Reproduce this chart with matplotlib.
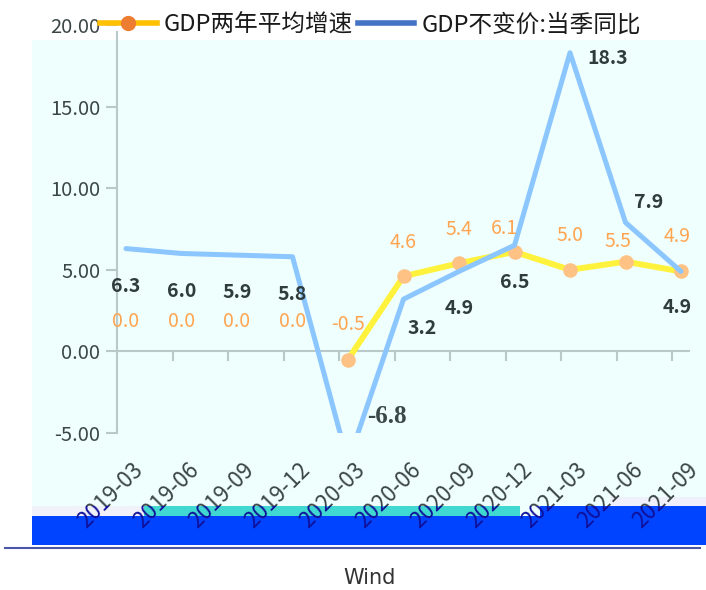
import numpy as np
import matplotlib.pyplot as plt
from matplotlib.patches import Rectangle
from matplotlib.lines import Line2D
from matplotlib.transforms import ScaledTranslation, Bbox

plt.rcParams['font.family'] = ['Noto Sans CJK SC', 'DejaVu Sans']

# 数据
quarters = ['2019-03', '2019-06', '2019-09', '2019-12', '2020-03', '2020-06',
            '2020-09', '2020-12', '2021-03', '2021-06', '2021-09']
avg_growth = [0.0, 0.0, 0.0, 0.0, -0.5, 4.6, 5.4, 6.1, 5.0, 5.5, 4.9]
yoy_growth = [6.3, 6.0, 5.9, 5.8, -6.8, 3.2, 4.9, 6.5, 18.3, 7.9, 4.9]
avg_start = 4  # 两年平均从2020-03开始画线

# 标签偏移 (像素)
avg_offsets = [(0, 30)] * 4 + [(0, 35), (0, 34), (0, 34), (-10, 23), (0, 34), (-8, 20), (-4, 35)]
yoy_offsets = [(0, -38), (0, -38), (0, -37), (0, -38), (39, 46), (19, -29),
               (0, -37), (0, -37), (38, -6), (23, 20), (-4, -36)]

W, H = 706, 590
fig = plt.figure(figsize=(W / 100, H / 100), dpi=100)
fig.patch.set_facecolor('white')


def box(x0, y0, x1, y1, color, z):
    fig.add_artist(Rectangle((x0 / W, 1 - y1 / H), (x1 - x0) / W, (y1 - y0) / H,
                             transform=fig.transFigure, color=color, zorder=z, lw=0))


box(32, 40, 706, 516, '#effffd', -10)
box(32, 506, 144, 516, '#f1f1fa', -6)
box(610, 497, 706, 506, '#f0f0fc', -6)
box(32, 516, 706, 545, '#0044ff', -5)
box(540, 506, 706, 516, '#0044ff', -5)
box(144, 506, 520, 516, '#40d8d0', -5)
fig.add_artist(Line2D([5 / W, 700 / W], [1 - 548 / H] * 2, color='#4a56a8', lw=1.5,
                      transform=fig.transFigure, zorder=-5))
fig.text(370 / W, 1 - 578 / H, 'Wind', ha='center', va='center', fontsize=15,
         color='#333333', family=['Liberation Sans Narrow', 'DejaVu Sans'])

ax = fig.add_axes([117 / W, 1 - 433 / H, 573 / W, 408 / H])
ax.set_facecolor('none')
ax.set_xlim(-0.162, 10.162)
ax.set_ylim(-5, 20)

x = np.arange(len(quarters))
ax.plot(x[avg_start:], avg_growth[avg_start:], color='#fff23c', lw=4.3, marker='o', ms=9.5,
        mfc='#ffc285', mec='#ffc285', zorder=2)
ax.plot(x, yoy_growth, color='#8cc6ff', lw=3.6, zorder=3, solid_capstyle='round')

for i, v in enumerate(avg_growth):
    ax.annotate(f'{v:.1f}', (i, v), xytext=avg_offsets[i], textcoords='offset pixels',
                ha='center', va='center', fontsize=14, color='#ffa552', annotation_clip=False)
for i, v in enumerate(yoy_growth):
    if v < -5:
        ax.annotate(f'{v:.1f}', (i, v), xytext=yoy_offsets[i], textcoords='offset pixels',
                    ha='center', va='center', fontsize=18, color='#3a4848', fontweight='bold',
                    family=['Liberation Serif', 'DejaVu Serif'], annotation_clip=False)
    else:
        ax.annotate(f'{v:.1f}', (i, v), xytext=yoy_offsets[i], textcoords='offset pixels',
                    ha='center', va='center', fontsize=14, color='#2f3c3c', fontweight='bold',
                    annotation_clip=False)

# 坐标轴
for s in ['top', 'right', 'bottom']:
    ax.spines[s].set_visible(False)
ax.spines['left'].set_color('#b9c9c9')
ax.spines['left'].set_linewidth(1.5)
ax.spines['left'].set_bounds(-5, 19.6)
ax.axhline(0, color='#b9c9c9', lw=1.5, zorder=1)
ax.vlines(np.arange(1, 11) - 0.162, -0.6, 0, color='#b9c9c9', lw=1.5, zorder=1)

ax.set_yticks([-5, 0, 5, 10, 15, 20])
ax.set_yticklabels([f'{t:.2f}' for t in [-5, 0, 5, 10, 15, 20]])
ax.tick_params(axis='y', length=8, width=1.5, color='#b9c9c9', labelcolor='#3c4646',
               labelsize=14.5, pad=4)
ax.set_xticks(x)
ax.set_xticklabels([])
ax.tick_params(axis='x', length=0)

# x轴标签: 色带上方为灰色, 色带内为深蓝
shift = ScaledTranslation(0.055, -0.25, fig.dpi_scale_trans)
clip_top = Bbox.from_extents(0, H - 506, W, H)
clip_band = Bbox.from_extents(0, 0, W, H - 506)
for i, q in enumerate(quarters):
    for col, clip in [('#3c4646', clip_top), ('#10109a', clip_band)]:
        t = ax.text(i, 0, q, transform=ax.get_xaxis_transform() + shift, rotation=45,
                    ha='right', va='top', rotation_mode='anchor', fontsize=16, color=col)
        t.set_clip_on(True)
        t.set_clip_box(clip)

handles = [Line2D([], [], color='#ffc000', lw=4, marker='o', ms=10, mfc='#ed7d31', mec='#ed7d31'),
           Line2D([], [], color='#4472c4', lw=4)]
fig.legend(handles, ['GDP两年平均增速', 'GDP不变价:当季同比'], loc='center left',
           bbox_to_anchor=(100 / W, 1 - 25 / H), ncol=2, frameon=False, fontsize=17,
           handlelength=2.4, handletextpad=0.3, columnspacing=0.2, borderpad=0,
           borderaxespad=0, labelcolor='#1a1a1a')

fig.savefig('out.png', dpi=100)
